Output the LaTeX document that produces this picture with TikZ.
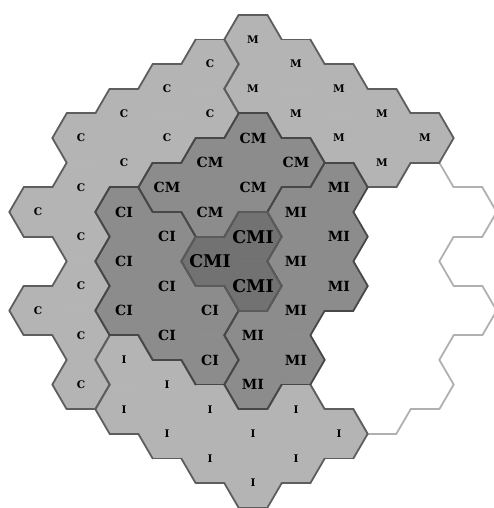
\documentclass[tikz,border=0pt]{standalone}
\usepackage{fontspec}
\newfontfamily\labfont{DejaVu Serif}
\definecolor{lightfill}{HTML}{B4B4B4}
\definecolor{midfill}{HTML}{8C8C8C}
\definecolor{darkfill}{HTML}{727272}
\colorlet{fill0}{white}
\colorlet{fill1}{lightfill}\colorlet{fill2}{lightfill}\colorlet{fill3}{lightfill}
\colorlet{fill4}{midfill}\colorlet{fill5}{midfill}\colorlet{fill6}{midfill}
\colorlet{fill7}{darkfill}
\definecolor{edge0}{HTML}{B0B0B0}
\definecolor{edgelight}{HTML}{5E5E5E}
\definecolor{edgemid}{HTML}{474747}
\definecolor{edgedark}{HTML}{5A5A5A}
\colorlet{edge1}{edgelight}\colorlet{edge2}{edgelight}\colorlet{edge3}{edgelight}
\colorlet{edge4}{edgemid}\colorlet{edge5}{edgemid}\colorlet{edge6}{edgemid}
\colorlet{edge7}{edgedark}
% cells: column / half-row / region (0 empty,1 C,2 M,3 I,4 CM,5 CI,6 MI,7 CMI)
\def\celllist{4/-6/1,3/-5/1,2/-4/1,4/-4/1,1/-3/1,3/-3/1,2/-2/1,1/-1/1,0/0/1,1/1/1,1/3/1,0/4/1,1/5/1,1/7/1,%
5/-7/2,6/-6/2,5/-5/2,7/-5/2,6/-4/2,8/-4/2,7/-3/2,9/-3/2,8/-2/2,%
2/6/3,3/7/3,2/8/3,4/8/3,6/8/3,3/9/3,5/9/3,7/9/3,4/10/3,6/10/3,5/11/3,%
5/-3/4,4/-2/4,6/-2/4,3/-1/4,5/-1/4,4/0/4,%
2/0/5,3/1/5,2/2/5,3/3/5,2/4/5,4/4/5,3/5/5,4/6/5,%
7/-1/6,6/0/6,7/1/6,6/2/6,7/3/6,6/4/6,5/5/6,6/6/6,5/7/6,%
5/1/7,4/2/7,5/3/7,%
7/5/0,7/7/0,8/0/0,8/2/0,8/4/0,8/6/0,8/8/0,9/-1/0,9/1/0,9/3/0,9/5/0,9/7/0,10/0/0,10/4/0}
\def\nb#1#2{\ifcsname rg@\the\numexpr#1\relax @\the\numexpr#2\relax\endcsname\csname rg@\the\numexpr#1\relax @\the\numexpr#2\relax\endcsname\else -1\fi}
\tikzset{
  hexfill/.style={line width=0.6pt, line join=round},
  hexedge/.style={line width=1.8pt, line cap=round},
  lab/.style={inner sep=0pt, font=\labfont\bfseries},
  hexshift/.style 2 args={shift={({38+43*#1},{212+24.65*#2})}}
}
\begin{document}
\begin{tikzpicture}[x=1pt,y=-1pt]
\useasboundingbox (0,0) rectangle (494,508);
\fill[white] (0,0) rectangle (494,508);
\foreach \hc/\hm/\hreg in \celllist {\expandafter\xdef\csname rg@\hc @\hm\endcsname{\hreg}}
% fills
\foreach \hc/\hm/\hreg in \celllist {
  \begin{scope}[hexshift={\hc}{\hm}]
    \filldraw[hexfill, fill=fill\hreg, draw=fill\hreg] (-28.67,0) -- (-14.33,-24.65) -- (14.33,-24.65) -- (28.67,0) -- (14.33,24.65) -- (-14.33,24.65) -- cycle;
  \end{scope}
}
% region boundaries
\foreach \lev in {0,1,2,3,4,5,6,7} {
  \foreach \hc/\hm/\hreg in \celllist {
    \ifnum\hreg=\lev\relax
      \begin{scope}[hexshift={\hc}{\hm}]
        \ifnum\nb{\hc}{\hm-2}=\hreg\relax\else \draw[hexedge, edge\hreg] (-14.33,-24.65) -- (14.33,-24.65);\fi
        \ifnum\nb{\hc}{\hm+2}=\hreg\relax\else \draw[hexedge, edge\hreg] (-14.33,24.65) -- (14.33,24.65);\fi
        \ifnum\nb{\hc+1}{\hm-1}=\hreg\relax\else \draw[hexedge, edge\hreg] (14.33,-24.65) -- (28.67,0);\fi
        \ifnum\nb{\hc+1}{\hm+1}=\hreg\relax\else \draw[hexedge, edge\hreg] (28.67,0) -- (14.33,24.65);\fi
        \ifnum\nb{\hc-1}{\hm-1}=\hreg\relax\else \draw[hexedge, edge\hreg] (-14.33,-24.65) -- (-28.67,0);\fi
        \ifnum\nb{\hc-1}{\hm+1}=\hreg\relax\else \draw[hexedge, edge\hreg] (-28.67,0) -- (-14.33,24.65);\fi
      \end{scope}
    \fi
  }
}
% labels
\foreach \hc/\hm/\hreg in \celllist {
  \ifnum\hreg>0\relax
    \pgfmathtruncatemacro\hmi{\hm+10}
    \node[lab] (h\hc-\hmi) at ({38+43*\hc},{212+24.65*\hm})
      {\ifnum\hreg<4 \fontsize{10.5}{10.5}\selectfont\else\ifnum\hreg<7 \fontsize{14}{14}\selectfont\else\fontsize{17.5}{17.5}\selectfont\fi\fi
       \ifcase\hreg\or C\or M\or I\or CM\or CI\or MI\or CMI\fi};
  \fi
}
\end{tikzpicture}
\end{document}
